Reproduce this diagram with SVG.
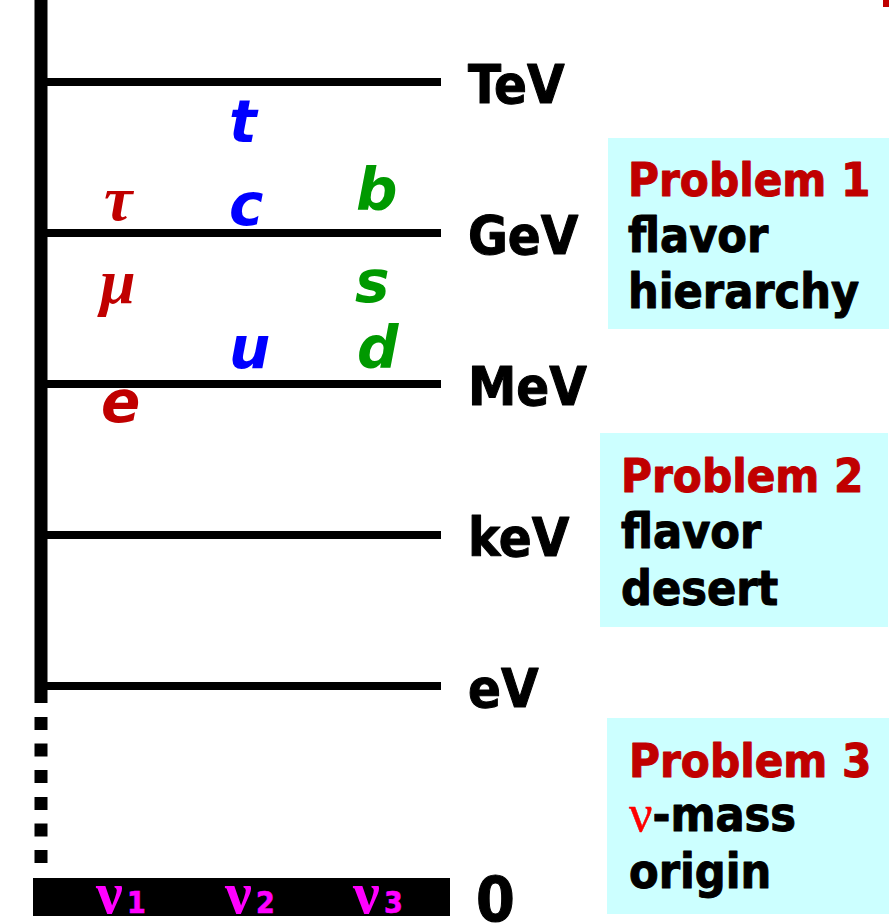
<svg xmlns="http://www.w3.org/2000/svg" width="889" height="923" viewBox="0 0 889 923">
  <style>
    .lbl { font-family: "DejaVu Sans Condensed", "DejaVu Sans", sans-serif; font-stretch: condensed; font-weight: bold; stroke-width: 1; stroke-linejoin: round; }
    .scale { font-size: 54px; fill: #000; stroke: #000; }
    .box { fill: #CCFFFF; stroke: none; }
    .prob { font-size: 47px; fill: #C00000; stroke: #C00000; }
    .desc { font-size: 48px; fill: #000; stroke: #000; }
    .fl { font-family: "DejaVu Sans", sans-serif; font-weight: bold; font-style: italic; font-size: 58px; }
    .greek { font-family: "Liberation Serif", serif; font-style: italic; font-weight: bold; font-size: 64px; }
    .lep { fill: #C00000; }
    .up { fill: #0000FF; }
    .down { fill: #009900; }
    .nu { font-family: "Liberation Serif", serif; font-weight: bold; font-size: 60px; fill: #FF00FF; }
    .idx { font-family: "DejaVu Sans Condensed", "DejaVu Sans", sans-serif; font-stretch: condensed; font-weight: bold; font-size: 30px; fill: #FF00FF; stroke: #FF00FF; stroke-width: 0.6; }
    .tick { stroke: #000; stroke-width: 8; }
  </style>

  <!-- energy axis -->
  <g id="axis">
    <rect x="34.5" y="0" width="13" height="703" fill="#000"/>
    <g fill="#000">
      <rect x="34.5" y="717" width="13" height="13"/>
      <rect x="34.5" y="743.5" width="13" height="13"/>
      <rect x="34.5" y="770" width="13" height="13"/>
      <rect x="34.5" y="797" width="13" height="13"/>
      <rect x="34.5" y="823.5" width="13" height="13"/>
      <rect x="34.5" y="850" width="13" height="13"/>
    </g>
    <rect x="883" y="0" width="6" height="7" fill="#C00000"/>
  </g>

  <!-- scale marks -->
  <g id="ticks">
    <line class="tick" x1="47" y1="82" x2="441" y2="82"/>
    <line class="tick" x1="47" y1="233" x2="441" y2="233"/>
    <line class="tick" x1="47" y1="384" x2="441" y2="384"/>
    <line class="tick" x1="47" y1="535" x2="441" y2="535"/>
    <line class="tick" x1="47" y1="686" x2="441" y2="686"/>
  </g>

  <g id="scale-labels" class="lbl scale">
    <text x="468" y="103">TeV</text>
    <text x="468" y="254">GeV</text>
    <text x="468" y="405">MeV</text>
    <text x="468" y="556">keV</text>
    <text x="468" y="707">eV</text>
    <text x="476" y="921" font-size="62">0</text>
  </g>

  <!-- fermion masses -->
  <g id="leptons">
    <text class="greek lep" x="104" y="220">τ</text>
    <text class="greek lep" x="100" y="303">μ</text>
    <text class="fl lep" x="101" y="422">e</text>
  </g>
  <g id="up-quarks">
    <text class="fl up" x="229" y="142">t</text>
    <text class="fl up" x="229" y="225">c</text>
    <text class="fl up" x="229" y="368">u</text>
  </g>
  <g id="down-quarks">
    <text class="fl down" x="356" y="210">b</text>
    <text class="fl down" x="355" y="302">s</text>
    <text class="fl down" x="357" y="368">d</text>
  </g>

  <!-- neutrino bar -->
  <g id="neutrinos">
    <rect x="33" y="878" width="417" height="38" fill="#000"/>
    <text class="nu" x="96" y="913">ν</text><text class="idx" x="127" y="913">1</text>
    <text class="nu" x="225" y="913">ν</text><text class="idx" x="256" y="913">2</text>
    <text class="nu" x="353" y="913">ν</text><text class="idx" x="384" y="913">3</text>
  </g>

  <!-- problem boxes -->
  <g id="problem1" class="lbl">
    <rect class="box" x="608" y="138" width="281" height="191"/>
    <text class="prob" x="628" y="196">Problem 1</text>
    <text class="desc" x="628" y="252">flavor</text>
    <text class="desc" x="628" y="308">hierarchy</text>
  </g>
  <g id="problem2" class="lbl">
    <rect class="box" x="600" y="433" width="288" height="194"/>
    <text class="prob" x="621" y="492">Problem 2</text>
    <text class="desc" x="621" y="548">flavor</text>
    <text class="desc" x="621" y="605">desert</text>
  </g>
  <g id="problem3" class="lbl">
    <rect class="box" x="607" y="718" width="282" height="196"/>
    <text class="prob" x="629" y="777">Problem 3</text>
    <text class="desc" x="629" y="831"><tspan font-family="Liberation Serif, serif" font-weight="normal" font-size="52" fill="#FF0000" stroke="#FF0000" stroke-width="0.5">ν</tspan>-mass</text>
    <text class="desc" x="629" y="888">origin</text>
  </g>
</svg>
